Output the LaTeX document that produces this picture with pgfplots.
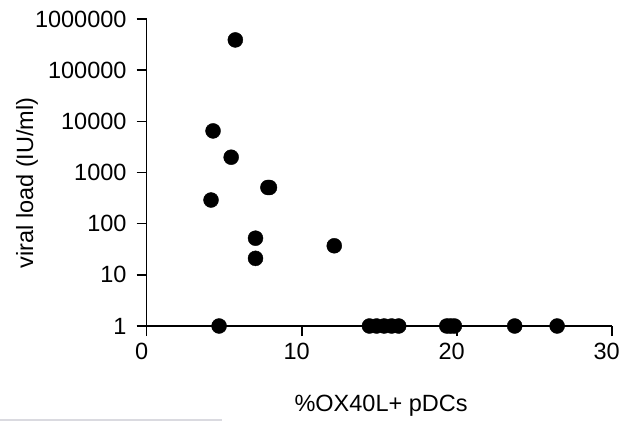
\documentclass[border=0pt]{standalone}
\usepackage{fontspec}
\setmainfont{Liberation Sans}
\usepackage{pgfplots}
\pgfplotsset{compat=1.18}
\begin{document}
\begin{tikzpicture}[x=1pt,y=1pt]
\path[use as bounding box] (0,0) rectangle (624,421);
\draw[color={rgb,255:red,218;green,218;blue,224}, line width=2pt] (0,1) -- (222,1);
\begin{axis}[
  at={(146.7pt,95pt)}, anchor=south west,
  scale only axis, width=465pt, height=307pt,
  xmin=0, xmax=30, ymin=1, ymax=1000000,
  ymode=log,
  axis x line*=bottom, axis y line*=left,
  axis line style={line width=1.6pt, -},
  tick style={line width=1.6pt, black},
  tick align=outside, major tick length=10pt,
  xtick={0,10,20,30},
  ytick={1,10,100,1000,10000,100000,1000000},
  yticklabels={1,10,100,1000,10000,100000,1000000},
  minor tick num=0, yminorticks=false,
  /pgf/number format/assume math mode=true,
  tick label style={font=\fontsize{23.5}{27}\selectfont, inner sep=0pt},
  yticklabel style={xshift=-10pt},
  xticklabel style={yshift=-7pt, xshift=-5pt},
  label style={font=\fontsize{23.5}{27}\selectfont},
  xlabel={\%OX40L+ pDCs},
  ylabel={viral load (IU/ml)},
  xlabel style={at={(axis description cs:0.504,-0.277)}, anchor=base},
  ylabel style={at={(axis description cs:-0.2445,0.466)}, anchor=base},
  clip=false,
]
\addplot[only marks, mark=*, mark size=7.5pt, black] coordinates {
(5.72,390000) (4.28,6500) (5.45,1990) (7.82,510) (7.92,510)
(4.15,290) (7.02,52) (7.02,21) (12.1,37) (4.67,1)
(14.37,1) (14.83,1) (15.32,1) (15.80,1) (16.26,1)
(19.36,1) (19.6,1) (19.85,1) (23.74,1) (26.48,1)
};
\end{axis}
\end{tikzpicture}
\end{document}
